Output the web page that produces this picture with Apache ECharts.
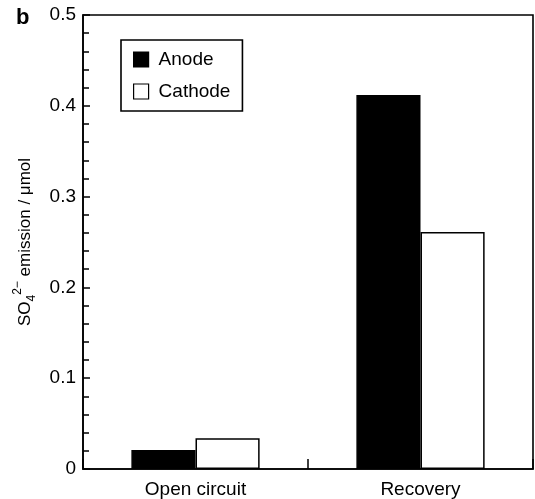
<!DOCTYPE html>
<html>
<head>
<meta charset="utf-8">
<script src="https://cdn.jsdelivr.net/npm/echarts@6/dist/echarts.min.js"></script>
<style>
  html, body { margin: 0; padding: 0; background: #fff; }
  #chart { width: 535px; height: 499px; }
</style>
</head>
<body>
<div id="chart"></div>
<script>
// Sulfate emission per condition, anode vs cathode
const categories = ['Open circuit', 'Recovery'];
const anodeValues = [0.021, 0.412];
const cathodeValues = [0.034, 0.261];
const seriesNames = ['Anode', 'Cathode'];

const FONT = '"Liberation Sans", Arial, Helvetica, sans-serif';

const chart = echarts.init(document.getElementById('chart'), null, { renderer: 'canvas' });

chart.setOption({
  animation: false,
  backgroundColor: '#fff',
  title: {
    text: 'b',
    left: 11,
    top: 2,
    textStyle: { fontFamily: FONT, fontSize: 22, fontWeight: 'bold', color: '#000' }
  },
  legend: {
    orient: 'vertical',
    left: 121,
    top: 40,
    padding: [10, 12, 10, 12],
    itemGap: 13,
    itemWidth: 15,
    itemHeight: 15,
    borderColor: '#000',
    borderWidth: 1.6,
    backgroundColor: '#fff',
    data: [
      { name: seriesNames[0], icon: 'rect', itemStyle: { color: '#000', borderColor: '#000', borderWidth: 1.2 } },
      { name: seriesNames[1], icon: 'rect', itemStyle: { color: '#fff', borderColor: '#000', borderWidth: 1.2 } }
    ],
    textStyle: { fontFamily: FONT, fontSize: 19, color: '#000', lineHeight: 19, padding: [0, 0, 0, 5] }
  },
  grid: {
    left: 83,
    top: 15,
    right: 2,
    bottom: 30,
    show: true,
    borderColor: '#000',
    borderWidth: 1.6,
    containLabel: false
  },
  xAxis: {
    type: 'category',
    data: categories,
    axisLine: { lineStyle: { color: '#000', width: 1.6 } },
    axisTick: { show: true, inside: true, length: 10, lineStyle: { color: '#000', width: 1.5 } },
    axisLabel: { fontFamily: FONT, fontSize: 19, color: '#000', margin: 11 },
    splitLine: { show: false }
  },
  yAxis: {
    type: 'value',
    min: 0,
    max: 0.5,
    interval: 0.1,
    axisLine: { show: true, lineStyle: { color: '#000', width: 1.6 } },
    axisTick: { show: true, inside: true, length: 7, lineStyle: { color: '#000', width: 1.5 } },
    minorTick: { show: true, splitNumber: 5, length: 6, lineStyle: { color: '#000', width: 1.5 } },
    axisLabel: { fontFamily: FONT, fontSize: 19, color: '#000', margin: 7 },
    splitLine: { show: false },
    name: '{m|SO}{sub|4}{sup|2−}{m| emission / μmol}',
    nameLocation: 'middle',
    nameRotate: 90,
    nameGap: 45,
    nameTextStyle: {
      fontFamily: FONT,
      fontSize: 17,
      color: '#000',
      rich: {
        m: { fontFamily: FONT, fontSize: 17, color: '#000', lineHeight: 26 },
        sub: { fontFamily: FONT, fontSize: 12, color: '#000', lineHeight: 12, verticalAlign: 'bottom' },
        sup: { fontFamily: FONT, fontSize: 12, color: '#000', lineHeight: 12, verticalAlign: 'top' }
      }
    }
  },
  series: [
    {
      name: seriesNames[0],
      type: 'bar',
      data: anodeValues,
      barGap: '0%',
      barCategoryGap: '43%',
      itemStyle: { color: '#000', borderColor: '#000', borderWidth: 1.5 }
    },
    {
      name: seriesNames[1],
      type: 'bar',
      data: cathodeValues,
      barGap: '0%',
      barCategoryGap: '43%',
      itemStyle: { color: '#fff', borderColor: '#000', borderWidth: 1.5 }
    }
  ]
});
</script>
</body>
</html>
